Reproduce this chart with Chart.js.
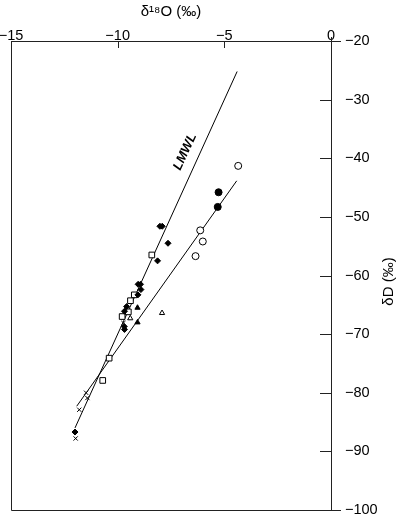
<!DOCTYPE html>
<html>
<head>
<meta charset="utf-8">
<script src="https://cdn.jsdelivr.net/npm/chart.js@4/dist/chart.umd.min.js"></script>
<style>
html,body{margin:0;padding:0;background:#fff;}
canvas{display:block;}
</style>
</head>
<body>
<canvas id="c" width="400" height="515"></canvas>
<script>
// Axis ticks
const xTicks = [-15, -10, -5, 0];
const yTicks = [-100, -90, -80, -70, -60, -50, -40, -30, -20];

// Data series (δ18O, δD)
const openCircleX = [-4.35, -6.13, -6.01, -6.35];
const openCircleY = [-41.3, -52.3, -54.2, -56.7];

const filledCircleX = [-5.27, -5.31];
const filledCircleY = [-45.8, -48.3];

const filledDiamondX = [-8.02, -7.91, -7.64, -8.13, -9.04, -8.93, -8.91, -9.05, -9.58, -9.68, -9.69, -9.68, -12.0];
const filledDiamondY = [-51.6, -51.6, -54.5, -57.5, -61.5, -61.5, -62.4, -63.3, -65.3, -66.1, -68.7, -69.2, -86.7];

const openSquareX = [-8.40, -9.22, -9.40, -9.50, -9.79, -10.40, -10.70];
const openSquareY = [-56.5, -63.3, -64.3, -66.2, -67.0, -74.1, -77.9];

const filledTriangleX = [-9.07, -9.07];
const filledTriangleY = [-65.5, -68.0];

const openTriangleX = [-7.92, -9.41];
const openTriangleY = [-66.4, -67.3];

const crossX = [-11.48, -11.42, -11.80, -11.97, -9.73];
const crossY = [-80.0, -80.9, -82.9, -87.8, -68.1];

// Lines: local meteoric water line and regression line endpoints
const lmwlX = [-12.0, -4.4];
const lmwlY = [-86.0, -25.2];
const regX = [-11.92, -4.42];
const regY = [-82.3, -43.85];

const pts = (xs, ys) => xs.map((v, i) => ({x: v, y: ys[i]}));
const minus = v => (v < 0 ? '\u2212' + Math.abs(v) : String(v));

const decor = {
  id: 'decor',
  afterDraw(chart) {
    const {ctx, chartArea: a, scales: {x, y}} = chart;
    ctx.save();
    ctx.strokeStyle = '#222';
    ctx.lineWidth = 1;
    ctx.beginPath();
    ctx.rect(a.left + 0.5, a.top + 0.5, a.right - a.left, a.bottom - a.top);
    // top ticks (inward)
    xTicks.forEach(v => {
      const px = Math.round(x.getPixelForValue(v)) + 0.5;
      ctx.moveTo(px, a.top + (v === 0 ? -4 : 0));
      ctx.lineTo(px, a.top + 7);
    });
    // right ticks (inward)
    yTicks.forEach(v => {
      const py = Math.round(y.getPixelForValue(v)) + 0.5;
      ctx.moveTo(a.right - 11, py);
      ctx.lineTo(a.right + ((v === -20 || v === -100) ? 10 : 0), py);
    });
    ctx.stroke();

    // right axis title
    ctx.fillStyle = '#000';
    ctx.font = '15px "Liberation Sans", Arial, sans-serif';
    ctx.textAlign = 'center';
    ctx.textBaseline = 'middle';
    ctx.save();
    ctx.translate(389, (a.top + a.bottom) / 2 + 6);
    ctx.rotate(-Math.PI / 2);
    ctx.fillText('\u03B4D (\u2030)', 0, 0);
    ctx.restore();

    // LMWL label
    ctx.save();
    ctx.translate(x.getPixelForValue(-6.84), y.getPixelForValue(-38.9));
    ctx.rotate(-Math.atan(2.18));
    ctx.font = 'italic bold 13px "Liberation Sans", Arial, sans-serif';
    ctx.fillText('LMWL', 0, 0);
    ctx.restore();
    ctx.restore();
  }
};

const mk = (data, style, filled, r) => ({
  data, pointStyle: style, pointRadius: r, pointHoverRadius: r,
  backgroundColor: filled ? '#000' : '#fff', borderColor: '#000',
  borderWidth: 1, showLine: false
});

new Chart(document.getElementById('c'), {
  type: 'scatter',
  data: {
    datasets: [
      mk(pts(openCircleX, openCircleY), 'circle', false, 3.5),
      mk(pts(filledCircleX, filledCircleY), 'circle', true, 3.5),
      mk(pts(filledDiamondX, filledDiamondY), 'rectRot', true, 3),
      mk(pts(openSquareX, openSquareY), 'rect', false, 4),
      mk(pts(filledTriangleX, filledTriangleY), 'triangle', true, 3),
      mk(pts(openTriangleX, openTriangleY), 'triangle', false, 3),
      mk(pts(crossX, crossY), 'crossRot', false, 3),
      {data: pts(lmwlX, lmwlY), showLine: true, pointRadius: 0, borderColor: '#000', borderWidth: 1, fill: false},
      {data: pts(regX, regY), showLine: true, pointRadius: 0, borderColor: '#000', borderWidth: 1, fill: false}
    ]
  },
  options: {
    responsive: false,
    animation: false,
    devicePixelRatio: 1,
    layout: {padding: {left: 11, bottom: 5, top: 0, right: 0}},
    plugins: {legend: {display: false}, tooltip: {enabled: false}},
    scales: {
      x: {
        type: 'linear', position: 'top', min: -15, max: 0,
        afterBuildTicks: s => { s.ticks = xTicks.map(v => ({value: v})); },
        afterFit: s => { s.height = 41; s.paddingLeft = 0; s.paddingRight = 0; },
        grid: {display: false, drawTicks: false},
        border: {display: false},
        ticks: {padding: -4, color: '#000', font: {family: '"Liberation Sans", Arial, sans-serif', size: 14.5}, callback: minus, maxRotation: 0},
        title: {display: true, text: '\u03B4\u00B9\u2078O (\u2030)', color: '#000', padding: {top: 3, bottom: 0}, font: {family: '"Liberation Sans", Arial, sans-serif', size: 15}}
      },
      y: {
        type: 'linear', position: 'right', min: -100, max: -20,
        afterBuildTicks: s => { s.ticks = yTicks.map(v => ({value: v})); },
        afterFit: s => { s.width = 69; s.paddingTop = 0; s.paddingBottom = 0; },
        grid: {display: false, drawTicks: false},
        border: {display: false},
        ticks: {padding: 14, color: '#000', font: {family: '"Liberation Sans", Arial, sans-serif', size: 14.5}, callback: minus}
      }
    }
  },
  plugins: [decor]
});
</script>
</body>
</html>
